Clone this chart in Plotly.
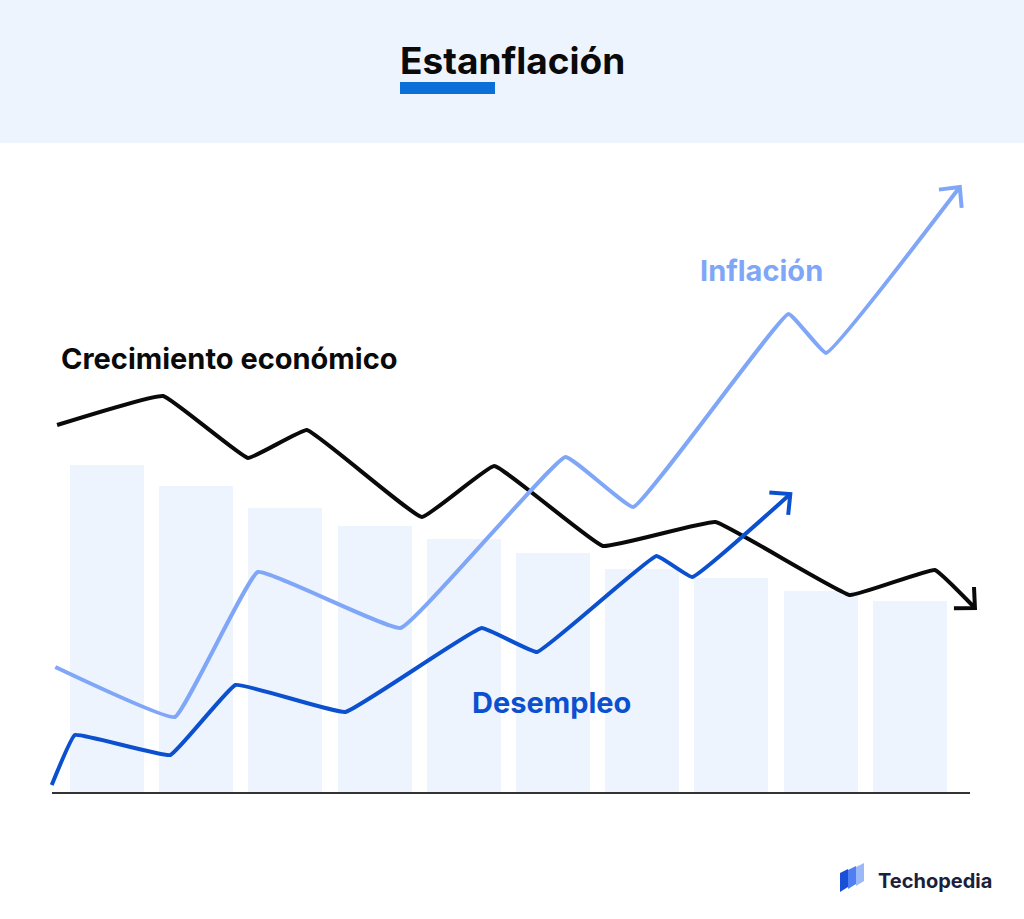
import math
import plotly.graph_objects as go

# ---------------- data ----------------
periods = list(range(10))
bar_values = [328, 307, 285, 267, 254, 240, 224, 215, 202, 192]

growth_x = [-0.56, 0.63, 1.58, 2.24, 3.53, 4.34, 5.56, 6.82, 8.33, 9.28, 9.73]
growth_y = [368, 397, 335, 363, 276, 327, 247, 271, 198, 223, 185]

inflation_x = [-0.58, 0.76, 1.69, 3.29, 5.14, 5.90, 7.64, 8.06, 9.56]
inflation_y = [126, 76, 221, 165, 336, 286, 479, 440, 606]

unemp_x = [-0.62, -0.36, 0.71, 1.44, 2.67, 4.20, 4.82, 6.16, 6.56, 7.66]
unemp_y = [8, 58, 38, 108, 81, 165, 141, 237, 216, 299]

labels = {"growth": "Crecimiento económico", "inflation": "Inflación", "unemp": "Desempleo"}

# ---------------- layout constants ----------------
W, H = 1024, 919
X_RANGE = [-1.2, 10.28]
Y_RANGE = [-126, 793]
C_BLACK = "#0a0a0a"
C_LIGHT = "#7fa6f7"
C_DARK = "#0b50cf"
C_BAR = "#eef4fd"


def to_px(x, y):
    px = (x - X_RANGE[0]) / (X_RANGE[1] - X_RANGE[0]) * W
    py = (Y_RANGE[1] - y) / (Y_RANGE[1] - Y_RANGE[0]) * H
    return px, py


def to_data(px, py):
    x = X_RANGE[0] + px / W * (X_RANGE[1] - X_RANGE[0])
    y = Y_RANGE[1] - py / H * (Y_RANGE[1] - Y_RANGE[0])
    return x, y


def chevron(xs, ys, length=21, ang=44):
    x1, y1 = to_px(xs[-2], ys[-2])
    x2, y2 = to_px(xs[-1], ys[-1])
    back = math.atan2(y1 - y2, x1 - x2)
    pts = []
    for s in (-1, 1):
        a = back + s * math.radians(ang)
        pts.append(to_data(x2 + length * math.cos(a), y2 + length * math.sin(a)))
    tip = (xs[-1], ys[-1])
    return [pts[0][0], tip[0], pts[1][0]], [pts[0][1], tip[1], pts[1][1]]


fig = go.Figure()

fig.add_trace(go.Bar(x=periods, y=bar_values, width=0.83, marker=dict(color=C_BAR, line=dict(width=0)),
                     hoverinfo="skip", showlegend=False))

for xs, ys, col in [(growth_x, growth_y, C_BLACK), (inflation_x, inflation_y, C_LIGHT), (unemp_x, unemp_y, C_DARK)]:
    fig.add_trace(go.Scatter(x=xs, y=ys, mode="lines",
                             line=dict(color=col, width=4, shape="spline", smoothing=0.25),
                             showlegend=False, hoverinfo="skip"))
    cx, cy = chevron(xs, ys)
    fig.add_trace(go.Scatter(x=cx, y=cy, mode="lines", line=dict(color=col, width=4),
                             showlegend=False, hoverinfo="skip"))

shapes = [
    dict(type="rect", xref="paper", yref="paper", x0=0, x1=1, y0=1 - 143 / H, y1=1,
         fillcolor=C_BAR, line=dict(width=0), layer="below"),
    dict(type="rect", xref="paper", yref="paper", x0=400 / W, x1=495 / W, y0=1 - 94 / H, y1=1 - 82 / H,
         fillcolor="#0a6fd6", line=dict(width=0)),
    dict(type="line", xref="paper", yref="y", x0=52 / W, x1=970 / W, y0=0, y1=0,
         line=dict(color="#333333", width=2)),
]

# Techopedia logo icon (three slanted panels)
logo_cols = ["#1a4fd8", "#4f7ff0", "#9bb8f8"]
for k in range(2, -1, -1):
    x0 = 840 + k * 8
    y0 = 873 - k * 3
    pts = [(x0, y0), (x0 + 8, y0 - 4), (x0 + 8, y0 + 14), (x0, y0 + 19)]
    path = "M " + " L ".join(f"{px / W},{1 - py / H}" for px, py in pts) + " Z"
    shapes.append(dict(type="path", xref="paper", yref="paper", path=path,
                       fillcolor=logo_cols[k], line=dict(width=0)))

FONT = "Inter, Roboto, sans-serif"
annotations = [
    dict(text="Estanflación", x=512 / W, y=1 - 60 / H, xanchor="center", yanchor="middle",
         font=dict(family=FONT, size=37, color="#0a0a0a", weight=700)),
    dict(text=labels["growth"], x=59 / W, y=1 - 358 / H, xanchor="left", yanchor="middle",
         font=dict(family=FONT, size=29, color=C_BLACK, weight=700)),
    dict(text=labels["inflation"], x=698 / W, y=1 - 270 / H, xanchor="left", yanchor="middle",
         font=dict(family=FONT, size=29, color=C_LIGHT, weight=700)),
    dict(text=labels["unemp"], x=470 / W, y=1 - 702 / H, xanchor="left", yanchor="middle",
         font=dict(family=FONT, size=29, color=C_DARK, weight=700)),
    dict(text="Techopedia", x=876 / W, y=1 - 881 / H, xanchor="left", yanchor="middle",
         font=dict(family=FONT, size=20, color="#1b1f3b", weight=700)),
]
for a in annotations:
    a.update(xref="paper", yref="paper", showarrow=False)

fig.update_layout(
    width=W, height=H, margin=dict(l=0, r=0, t=0, b=0),
    paper_bgcolor="white", plot_bgcolor="white",
    xaxis=dict(range=X_RANGE, visible=False, fixedrange=True),
    yaxis=dict(range=Y_RANGE, visible=False, fixedrange=True),
    shapes=shapes, annotations=annotations, bargap=0,
)

fig.write_html("out.html", config={"displayModeBar": False},
               post_script="document.body.style.margin='0';document.body.style.overflow='hidden';")
